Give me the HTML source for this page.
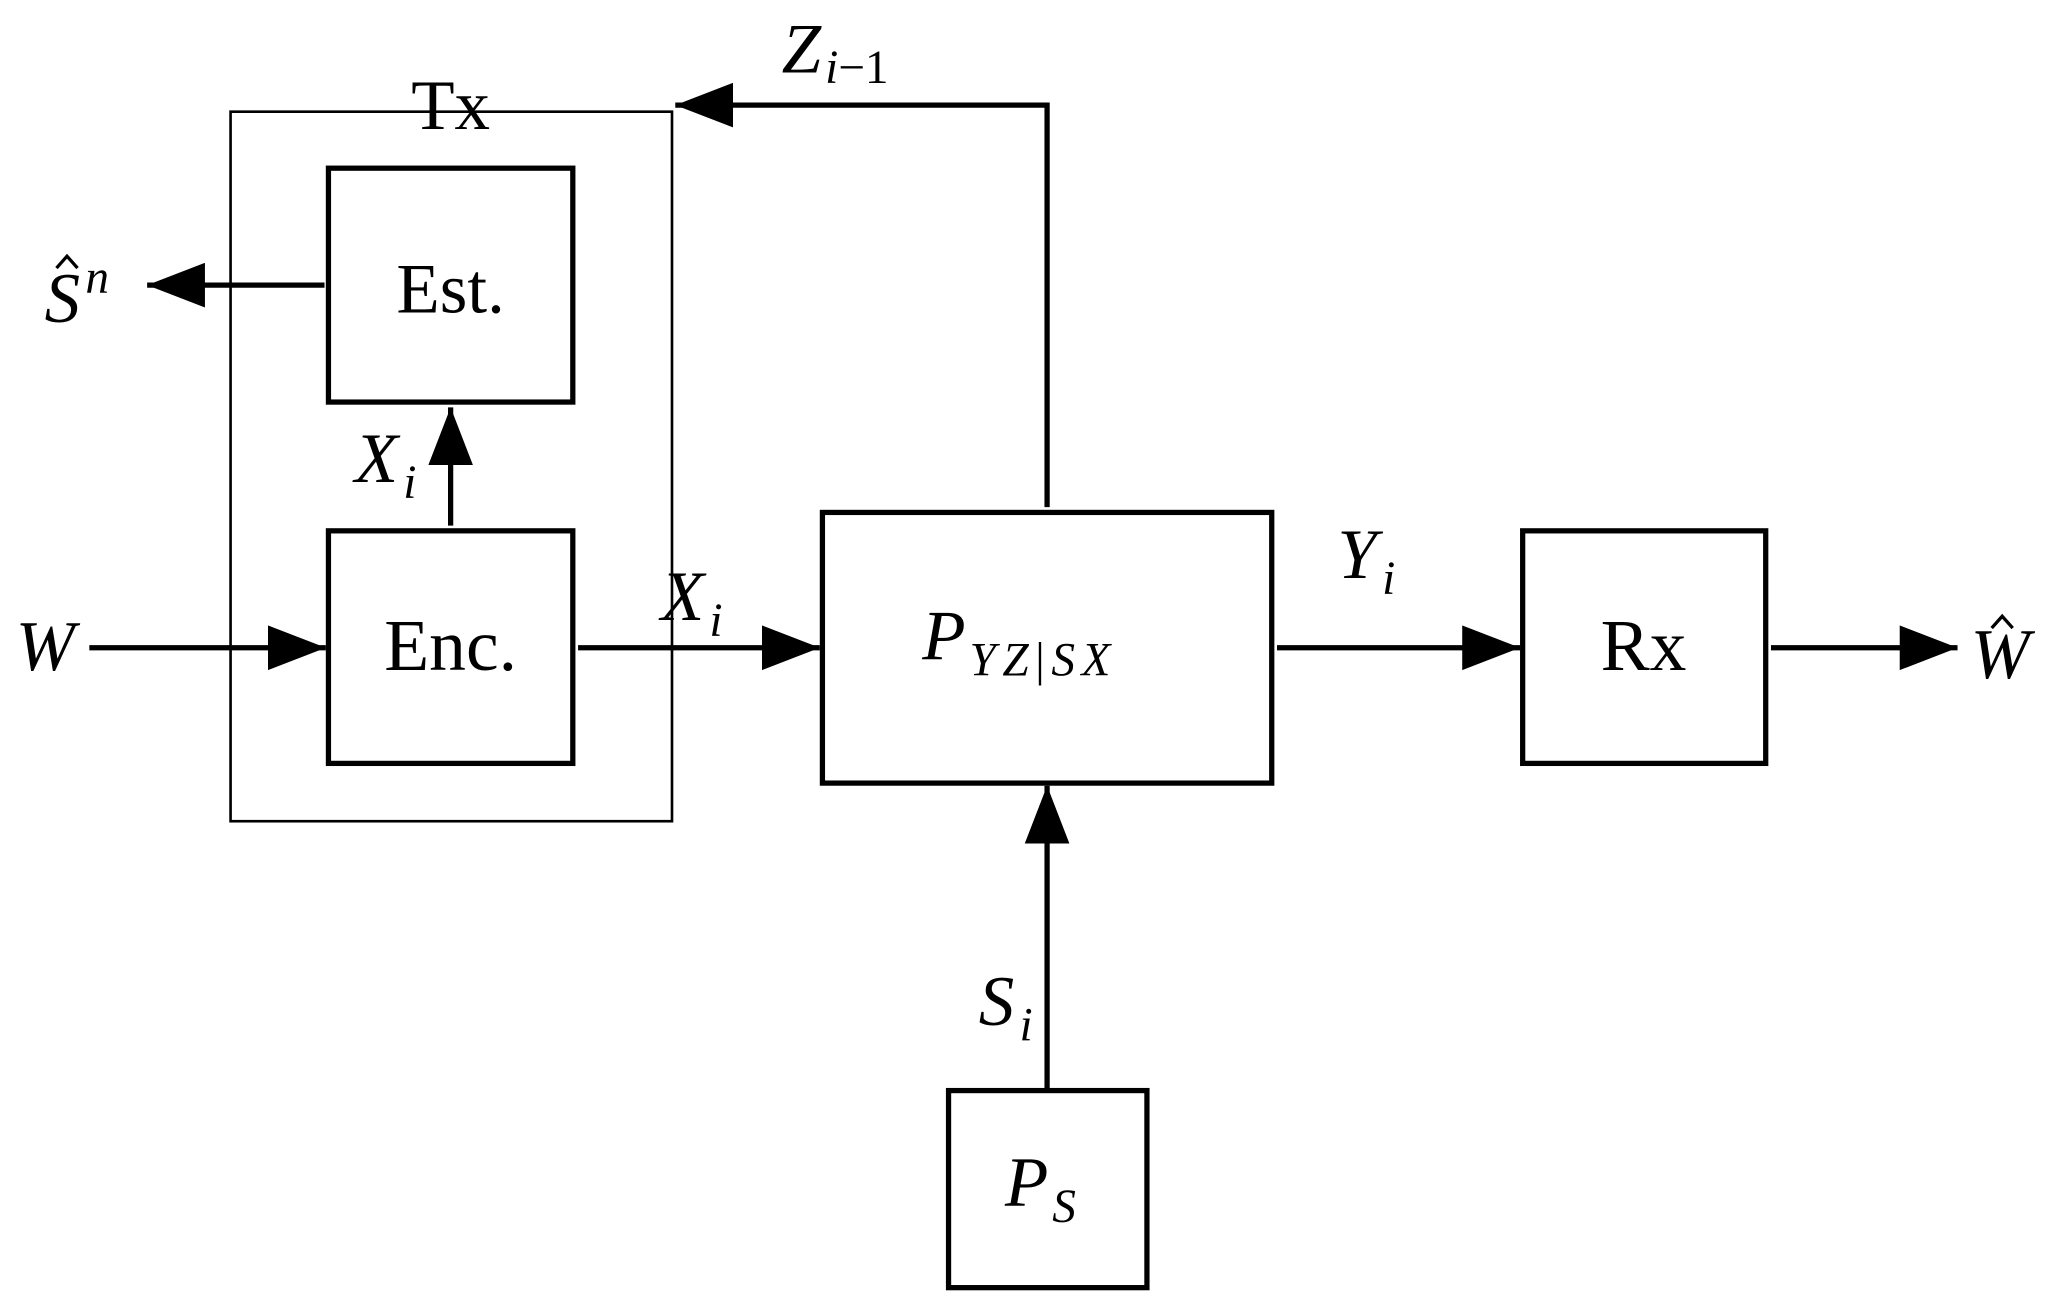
<!DOCTYPE html>
<html><head><meta charset="utf-8"><style>
html,body{margin:0;padding:0;background:#fff;}
svg{display:block;}
text{font-family:"Liberation Serif",serif;fill:#000;}
.it{font-style:italic;}
</style></head><body>
<svg width="2060" height="1310" viewBox="0 0 1568 997" preserveAspectRatio="none" xmlns="http://www.w3.org/2000/svg">
<defs>
<marker id="a" markerUnits="userSpaceOnUse" markerWidth="46" markerHeight="34" refX="44" refY="17" orient="auto">
<path d="M0,0 L44,17 L0,34 Z" fill="#000"/></marker>
</defs>
<g fill="none" stroke="#000">
<rect x="175.5" y="85" width="336" height="540" stroke-width="2"/>
<rect x="250" y="128" width="186" height="178" stroke-width="4"/>
<rect x="250" y="404" width="186" height="177" stroke-width="4"/>
<rect x="626" y="390" width="342" height="206" stroke-width="4"/>
<rect x="1159" y="404" width="185" height="177" stroke-width="4"/>
<rect x="722" y="830" width="151" height="150" stroke-width="4"/>
<g stroke-width="4" marker-end="url(#a)">
<line x1="68" y1="493" x2="248" y2="493"/>
<line x1="440" y1="493" x2="624" y2="493"/>
<line x1="972" y1="493" x2="1157" y2="493"/>
<line x1="1348" y1="493" x2="1490" y2="493"/>
<line x1="797" y1="828" x2="797" y2="598"/>
<polyline points="797,386 797,80 514,80"/>
<line x1="343" y1="400" x2="343" y2="310"/>
<line x1="247" y1="217" x2="112" y2="217"/>
</g>
<path d="M43,204 L51,195 L59,204" stroke-width="2.5"/>
<path d="M1516,478 L1524,469 L1532,478" stroke-width="2.5"/>
</g>
<text x="343" y="98" font-size="54" text-anchor="middle">Tx</text>
<text x="343" y="238" font-size="54" text-anchor="middle">Est.</text>
<text x="343" y="510" font-size="56" text-anchor="middle">Enc.</text>
<text x="1251" y="510" font-size="56" text-anchor="middle">Rx</text>
<text x="12" y="510" font-size="54" class="it">W</text>
<text x="1500" y="516" font-size="54" class="it">W</text>
<text x="34" y="245" font-size="54" class="it">S<tspan font-size="36" dy="-22" dx="4">n</tspan></text>
<text x="503" y="472" font-size="54" class="it">X<tspan font-size="36" dy="12" dx="4">i</tspan></text>
<text x="270" y="367" font-size="54" class="it">X<tspan font-size="36" dy="12" dx="4">i</tspan></text>
<text x="1018" y="440" font-size="54" class="it">Y<tspan font-size="36" dy="12" dx="4">i</tspan></text>
<text x="745" y="780" font-size="54" class="it">S<tspan font-size="36" dy="12" dx="4">i</tspan></text>
<text x="595" y="55" font-size="54" class="it">Z<tspan font-size="36" dy="8" dx="3">i</tspan><tspan font-style="normal" font-size="36">−1</tspan></text>
<text x="702" y="502" font-size="54" class="it">P<tspan font-size="36" dy="12" dx="3" letter-spacing="5">YZ</tspan><tspan font-style="normal" font-size="36" letter-spacing="5">|</tspan><tspan font-size="36" letter-spacing="5">SX</tspan></text>
<text x="765" y="918" font-size="54" class="it">P<tspan font-size="36" dy="12" dx="3">S</tspan></text>
</svg>
</body></html>
